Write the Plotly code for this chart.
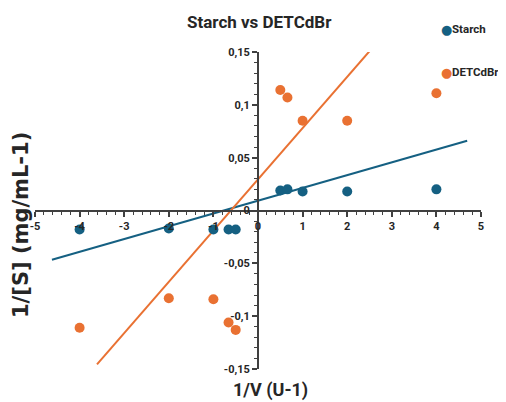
import plotly.graph_objects as go

# --- data ---
starch_x = [-4, -2, -1, -0.66, -0.5, 0.5, 0.66, 1, 2, 4]
starch_y = [-0.018, -0.017, -0.018, -0.018, -0.018, 0.019, 0.020, 0.018, 0.018, 0.020]

det_x = [-4, -2, -1, -0.66, -0.5, 0.5, 0.66, 1, 2, 4]
det_y = [-0.111, -0.083, -0.084, -0.106, -0.113, 0.114, 0.107, 0.085, 0.085, 0.111]

# trendlines (slope, intercept, x-extent)
starch_trend = dict(slope=0.0121, intercept=0.0093, x0=-4.62, x1=4.69)
det_trend = dict(slope=0.0485, intercept=0.0295, x0=-3.61, x1=2.78)

x_ticks = [-5, -4, -3, -2, -1, 0, 1, 2, 3, 4, 5]
x_ticktext = ["-5", "-4", "-3", "-2", "-1", "0", "1", "2", "3", "4", "5"]
y_ticks = [-0.15, -0.1, -0.05, 0, 0.05, 0.1, 0.15]
y_ticktext = ["-0,15", "-0,1", "-0,05", "0", "0,05", "0,1", "0,15"]

series_names = ["Starch", "DETCdBr"]

BLUE = "#156082"
ORANGE = "#E97132"
AXIS = "#404040"
TXT = "#262626"
COND = "Roboto, Liberation Sans, sans-serif"

fig = go.Figure()

for t, c in ((starch_trend, BLUE), (det_trend, ORANGE)):
    xs = [t["x0"], t["x1"]]
    ys = [t["slope"] * v + t["intercept"] for v in xs]
    fig.add_trace(go.Scatter(x=xs, y=ys, mode="lines", line=dict(color=c, width=2),
                             showlegend=False, hoverinfo="skip"))

fig.add_trace(go.Scatter(x=starch_x, y=starch_y, mode="markers", name=series_names[0],
                         showlegend=False, marker=dict(color=BLUE, size=10)))
fig.add_trace(go.Scatter(x=det_x, y=det_y, mode="markers", name=series_names[1],
                         showlegend=False, marker=dict(color=ORANGE, size=10)))

tickfont = dict(family=COND, size=11, color=TXT, weight="bold")

OFF = 8  # page body margin offset of the figure in the 506x402 window
W, H = 506 - OFF, 402 - OFF
# plot area in window pixels: x 35..481, y 52..369
L, T = 35 - OFF, 52 - OFF
R, B = W - (481 - OFF), H - (369 - OFF)
PW, PH = W - L - R, H - T - B


def px(xs):  # window pixel x -> paper
    return (xs - OFF - L) / PW


def py(ys):  # window pixel y -> paper
    return (H - B - (ys - OFF)) / PH


annotations = [
    dict(text="<b>Starch vs DETCdBr</b>", xref="paper", yref="paper",
         x=px(259), y=py(22), xanchor="center", yanchor="middle",
         showarrow=False, font=dict(family=COND, size=17, color=TXT)),
    dict(text="<b>1/V (U-1)</b>", xref="paper", yref="paper",
         x=px(270), y=py(390), xanchor="center", yanchor="middle",
         showarrow=False, font=dict(family=COND, size=18, color=TXT)),
    dict(text="<b>1/[S] (mg/mL-1)</b>", xref="paper", yref="paper",
         x=px(21), y=py(225), xanchor="center", yanchor="middle",
         textangle=-90, showarrow=False,
         font=dict(family="DejaVu Sans, sans-serif", size=21, color=TXT)),
]
# legend built as text entries
for name, col, ypix in ((series_names[0], BLUE, 29), (series_names[1], ORANGE, 72)):
    annotations.append(dict(
        text="●", xref="paper", yref="paper",
        x=px(446), y=py(ypix), xanchor="center", yanchor="middle", showarrow=False,
        font=dict(family="DejaVu Sans, sans-serif", size=13, color=col)))
    annotations.append(dict(
        text=f"<b>{name}</b>", xref="paper", yref="paper",
        x=px(450), y=py(ypix), xanchor="left", yanchor="middle", showarrow=False,
        font=dict(family=COND, size=11.5, color=TXT)))

fig.update_layout(
    width=W, height=H,
    margin=dict(l=L, r=R, t=T, b=B, autoexpand=False),
    paper_bgcolor="white", plot_bgcolor="white",
    showlegend=False,
    xaxis=dict(range=[-5, 5], anchor="free", position=0.5,
               showgrid=False, zeroline=False,
               showline=True, linecolor=AXIS, linewidth=2,
               ticks="outside", ticklen=5, tickwidth=1.5, tickcolor=AXIS,
               tickvals=x_ticks, ticktext=x_ticktext, tickfont=tickfont,
               ticklabelstandoff=0,
               minor=dict(dtick=0.2, ticks="outside", ticklen=3, tickwidth=1, tickcolor=AXIS)),
    yaxis=dict(range=[-0.15, 0.15], anchor="free", position=0.5,
               showgrid=False, zeroline=False,
               showline=True, linecolor=AXIS, linewidth=2,
               ticks="outside", ticklen=5, tickwidth=1.5, tickcolor=AXIS,
               tickvals=y_ticks, ticktext=y_ticktext, tickfont=tickfont,
               minor=dict(dtick=0.01, ticks="outside", ticklen=3, tickwidth=1, tickcolor=AXIS)),
    annotations=annotations,
)

fig.write_html("out.html")
